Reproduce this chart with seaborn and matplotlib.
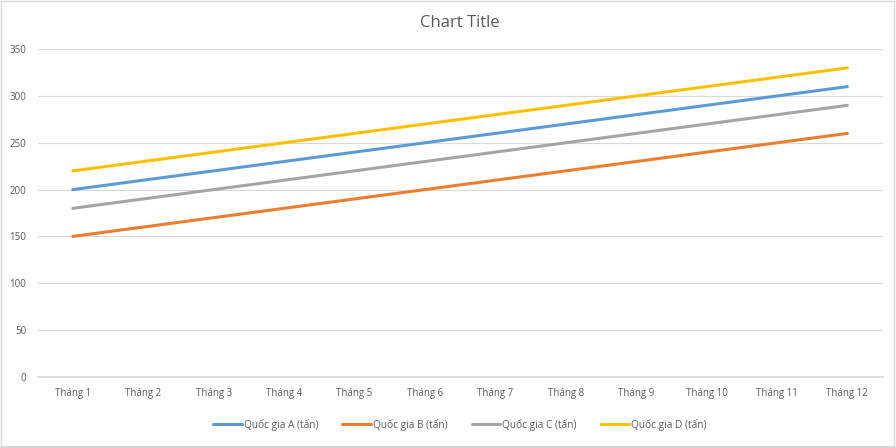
import matplotlib
matplotlib.use("Agg")
import matplotlib.pyplot as plt
import seaborn as sns
import pandas as pd
from matplotlib.patches import Rectangle

months = ["Tháng 1", "Tháng 2", "Tháng 3", "Tháng 4", "Tháng 5", "Tháng 6",
          "Tháng 7", "Tháng 8", "Tháng 9", "Tháng 10", "Tháng 11", "Tháng 12"]
series_a = [200, 210, 220, 230, 240, 250, 260, 270, 280, 290, 300, 310]
series_b = [150, 160, 170, 180, 190, 200, 210, 220, 230, 240, 250, 260]
series_c = [180, 190, 200, 210, 220, 230, 240, 250, 260, 270, 280, 290]
series_d = [220, 230, 240, 250, 260, 270, 280, 290, 300, 310, 320, 330]
names = ["Quốc gia A (tấn)", "Quốc gia B (tấn)", "Quốc gia C (tấn)", "Quốc gia D (tấn)"]
colors = ["#5B9BD5", "#ED7D31", "#A5A5A5", "#FFC000"]

rows = []
for name, vals in zip(names, [series_a, series_b, series_c, series_d]):
    for m, v in zip(months, vals):
        rows.append({"Tháng": m, "Giá trị": v, "Series": name})
df = pd.DataFrame(rows)

sns.set_theme(style="white")
plt.rcParams['font.family'] = ['Open Sans', 'DejaVu Sans']

fig = plt.figure(figsize=(8.96, 4.47), dpi=100)
ax = fig.add_axes([0.042, 0.157, 0.943, 0.733])
sns.lineplot(data=df, x="Tháng", y="Giá trị", hue="Series", palette=colors,
             linewidth=2.2, ax=ax, sort=False)

ax.set_xlim(-0.5, 11.5)
ax.set_ylim(0, 350)
ax.set_yticks(range(0, 351, 50))
ax.grid(axis="y", color="#D9D9D9", linewidth=0.8)
ax.set_axisbelow(True)
for s in ["top", "right", "left"]:
    ax.spines[s].set_visible(False)
ax.spines["bottom"].set_color("#D9D9D9")
ax.tick_params(axis="both", labelsize=7, colors="#595959", length=0, pad=8)
ax.set_xlabel("")
ax.set_ylabel("")
ax.set_title("Chart Title", fontsize=12, color="#595959", pad=16)

leg = ax.legend(loc="upper center", bbox_to_anchor=(0.5, -0.1), ncol=4, frameon=False,
                fontsize=7.3, handlelength=2.8, handletextpad=0.2, columnspacing=2.4)
for t in leg.get_texts():
    t.set_color("#595959")

fig.patches.append(Rectangle((0.001, 0.002), 0.997, 0.995, transform=fig.transFigure,
                             fill=False, edgecolor="#D9D9D9", linewidth=1))
fig.savefig("out.png", dpi=100)
